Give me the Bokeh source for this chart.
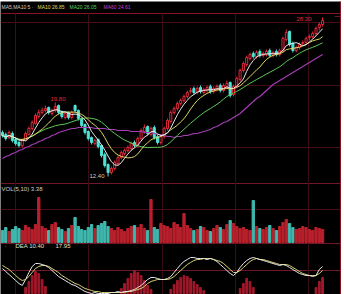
from bokeh.plotting import figure
from bokeh.models import Range1d, ColumnDataSource
from bokeh.core.properties import value
from bokeh.embed import file_html
from bokeh.resources import INLINE
import pandas as pd

# ---------------- data ----------------
open_ = [16.8, 16.6, 16.3, 16.7, 16.1, 15.8, 15.5, 16.0, 16.6, 17.2,
         17.7, 18.4, 18.8, 19.0, 19.3, 18.7, 19.0, 19.5, 18.9, 18.3,
         18.8, 18.3, 19.5, 19.0, 18.2, 17.6, 16.9, 16.3, 15.7, 16.1,
         15.5, 14.6, 13.6, 12.8, 13.2, 13.7, 14.3, 14.7, 15.0, 15.2,
         15.8, 15.5, 16.2, 16.9, 17.4, 16.6, 17.3, 16.4, 15.8, 16.4,
         17.2, 17.9, 18.8, 19.2, 19.7, 20.0, 20.4, 20.9, 21.2, 20.8,
         21.3, 20.8, 21.0, 21.4, 20.9, 21.1, 21.5, 21.0, 21.4, 21.8,
         20.6, 21.4, 22.1, 23.0, 23.6, 24.2, 24.7, 24.4, 24.9, 24.5,
         24.6, 25.0, 24.5, 24.9, 24.6, 25.0, 26.1, 26.9, 25.7, 25.0,
         25.3, 25.7, 25.8, 26.3, 26.4, 26.7, 27.3, 27.6]
close_ = [16.5, 16.2, 16.8, 16.0, 15.7, 15.5, 16.0, 16.7, 17.2, 17.8,
          18.5, 18.8, 19.0, 19.2, 18.8, 19.0, 19.4, 18.8, 18.4, 18.7,
          18.3, 18.8, 19.0, 18.2, 17.5, 16.8, 16.2, 15.8, 16.0, 15.4,
          14.5, 13.5, 12.8, 13.2, 13.8, 14.3, 14.8, 15.0, 15.3, 15.7,
          15.5, 16.2, 17.0, 17.3, 16.7, 17.2, 16.3, 15.8, 16.4, 17.2,
          18.0, 18.8, 19.2, 19.7, 20.0, 20.4, 20.8, 21.0, 20.8, 21.2,
          20.9, 21.1, 21.3, 20.9, 21.2, 21.4, 21.0, 21.5, 21.7, 20.5,
          21.4, 22.2, 23.0, 23.7, 24.3, 24.6, 24.4, 24.8, 24.5, 24.7,
          24.9, 24.5, 24.8, 24.6, 25.0, 26.2, 26.8, 25.6, 25.0, 25.3,
          25.6, 25.8, 26.2, 26.4, 26.7, 27.2, 27.6, 28.0]
high_ = [17.0, 16.8, 17.0, 16.9, 16.3, 16.0, 16.2, 16.9, 17.4, 18.0,
         18.7, 19.1, 19.3, 19.5, 19.4, 19.2, 19.8, 19.6, 19.0, 18.9,
         18.9, 19.0, 19.6, 19.1, 18.3, 17.7, 17.0, 16.4, 16.2, 16.2,
         15.6, 14.8, 13.7, 13.4, 14.0, 14.5, 15.0, 15.2, 15.5, 15.9,
         16.0, 16.4, 17.2, 17.6, 17.5, 17.4, 17.5, 16.6, 16.6, 17.4,
         18.2, 19.0, 19.4, 19.9, 20.2, 20.6, 21.0, 21.3, 21.4, 21.4,
         21.5, 21.3, 21.5, 21.6, 21.4, 21.6, 21.7, 21.7, 22.0, 21.9,
         21.6, 22.4, 23.2, 23.9, 24.5, 24.8, 24.9, 25.0, 25.1, 24.9,
         25.1, 25.2, 25.0, 25.1, 25.2, 26.4, 27.1, 27.0, 25.9, 25.5,
         25.8, 26.0, 26.4, 26.6, 26.9, 27.4, 27.8, 28.3]
low_ = [16.3, 16.0, 16.1, 15.8, 15.5, 15.3, 15.3, 15.9, 16.5, 17.0,
        17.6, 18.2, 18.6, 18.8, 18.6, 18.5, 18.8, 18.6, 18.2, 18.1,
        18.1, 18.1, 18.8, 18.0, 17.3, 16.6, 16.0, 15.6, 15.5, 15.2,
        14.3, 13.3, 12.4, 12.6, 13.0, 13.5, 14.1, 14.5, 14.8, 15.0,
        15.3, 15.3, 16.0, 16.7, 16.5, 16.4, 16.1, 15.6, 15.6, 16.2,
        17.0, 17.7, 18.6, 19.0, 19.5, 19.8, 20.2, 20.7, 20.6, 20.6,
        20.7, 20.6, 20.8, 20.7, 20.7, 20.9, 20.8, 20.8, 21.2, 20.3,
        20.4, 21.2, 21.9, 22.8, 23.4, 24.0, 24.2, 24.2, 24.3, 24.3,
        24.4, 24.3, 24.3, 24.4, 24.4, 24.8, 25.9, 25.4, 24.8, 24.8,
        25.1, 25.5, 25.6, 26.0, 26.2, 26.5, 27.0, 27.4]
ma60 = [14.2, 14.4, 14.5, 14.7, 14.8, 15.0, 15.1, 15.3, 15.4, 15.6,
        15.7, 15.9, 16.0, 16.2, 16.3, 16.5, 16.6, 16.8, 16.9, 17.0,
        17.1, 17.2, 17.2, 17.3, 17.3, 17.3, 17.3, 17.3, 17.2, 17.2,
        17.2, 17.2, 17.1, 17.1, 17.1, 17.0, 17.0, 17.0, 17.0, 16.9,
        16.9, 16.9, 16.9, 16.8, 16.8, 16.8, 16.7, 16.6, 16.6, 16.5,
        16.4, 16.4, 16.3, 16.4, 16.4, 16.5, 16.5, 16.6, 16.7, 16.7,
        16.8, 16.9, 17.0, 17.1, 17.3, 17.4, 17.6, 17.8, 17.9, 18.1,
        18.3, 18.5, 18.7, 19.0, 19.3, 19.6, 19.9, 20.2, 20.4, 20.7,
        21.0, 21.3, 21.6, 21.8, 22.0, 22.2, 22.4, 22.6, 22.8, 23.0,
        23.2, 23.4, 23.6, 23.8, 24.0, 24.2, 24.4, 24.6]
volume = [120, 150, 110, 130, 160, 140, 120, 170, 150, 130,
          180, 450, 160, 140, 120, 180, 200, 150, 130, 110,
          140, 170, 250, 160, 130, 120, 150, 180, 140, 170,
          190, 210, 160, 140, 120, 150, 130, 110, 140, 160,
          170, 150, 180, 140, 120, 430, 150, 130, 190, 170,
          160, 140, 200, 180, 150, 290, 170, 140, 120, 130,
          160, 150, 120, 110, 140, 170, 150, 130, 180, 220,
          190, 160, 140, 150, 130, 120, 420, 160, 140, 130,
          150, 170, 140, 120, 160, 200, 230, 190, 150, 130,
          140, 160, 150, 130, 120, 150, 140, 130]
dif = [0.2, -0.1, -0.4, -0.7, -1.0, -1.3, -1.5, -0.9, -0.2, 0.4,
       0.7, 0.7, 0.6, 0.5, 0.3, 0.0, -0.3, -0.6, -0.8, -1.0,
       -1.2, -1.4, -1.5, -1.7, -1.9, -2.1, -2.2, -2.3, -2.2, -2.3,
       -2.3, -2.3, -2.3, -2.2, -2.2, -2.1, -2.2, -2.1, -2.1, -2.0,
       -1.9, -1.7, -1.5, -1.2, -0.9, -0.7, -0.7, -0.8, -0.9, -0.9,
       -0.8, -0.6, -0.2, 0.2, 0.6, 0.9, 1.1, 1.3, 1.3, 1.2,
       1.2, 1.2, 1.1, 1.2, 1.1, 0.9, 0.6, 0.3, 0.0, -0.3,
       -0.5, -0.2, 0.3, 0.7, 1.0, 1.2, 1.3, 1.2, 1.1, 1.0,
       0.9, 0.8, 0.7, 0.6, 0.5, 0.6, 0.5, 0.3, 0.1, -0.1,
       -0.3, -0.4, -0.5, -0.5, -0.6, -0.5, 0.1, 0.4]
dea = [0.5, 0.3, 0.1, -0.2, -0.5, -0.8, -1.0, -0.9, -0.6, -0.2,
       0.2, 0.4, 0.5, 0.5, 0.4, 0.2, 0.0, -0.2, -0.5, -0.7,
       -0.9, -1.1, -1.3, -1.4, -1.6, -1.8, -1.9, -2.0, -2.1, -2.1,
       -2.2, -2.2, -2.2, -2.2, -2.2, -2.2, -2.2, -2.2, -2.1, -2.1,
       -2.0, -1.9, -1.8, -1.6, -1.3, -1.1, -1.0, -0.9, -0.9, -0.9,
       -0.9, -0.8, -0.6, -0.3, 0.0, 0.3, 0.6, 0.8, 1.0, 1.1,
       1.1, 1.2, 1.2, 1.2, 1.1, 1.0, 0.9, 0.7, 0.4, 0.1,
       -0.2, -0.2, 0.0, 0.3, 0.6, 0.9, 1.1, 1.2, 1.1, 1.1,
       1.0, 0.9, 0.8, 0.7, 0.6, 0.6, 0.6, 0.5, 0.3, 0.1,
       -0.1, -0.3, -0.4, -0.5, -0.5, -0.5, -0.3, 0.0]
hist = [0, 0, 0, 0, 0, 0, 0, 0.6, 1.2, 1.8,
        2.2, 2.0, 1.4, 0.7, 0, 0, 0, 0, 0, 0,
        0, 0, 0, 0, 0, 0, 0, 0, 0, 0,
        0, 0, 0, 0, 0, 0, 0.5, 1.0, 1.5, 2.0,
        2.3, 2.1, 1.8, 1.3, 0.8, 0.4, 0, 0, 0, 0,
        0, 0.4, 0.9, 1.3, 1.6, 1.8, 1.7, 1.5, 1.2, 0.9,
        0.6, 0.3, 0, 0, 0, 0, 0, 0, 0, 0,
        0, 0, 0.5, 1.0, 1.5, 1.2, 0.6, 0, 0, 0,
        0, 0, 0, 0, 0, 0, 0, 0, 0, 0,
        0, 0, 0, 0, 0, 0.6, 1.2, 1.6]

top_labels = ["MA5,MA10 5 ·", "MA10 26.85", "MA20 26.05", "MA60 24.61"]
high_label = "19.80"
low_label = "12.40"
last_label = "28.30"
vol_label = "VOL(5,10) 3.38"
macd_labels = ["DEA 10.40", "17.95"]

# ---------------- styles ----------------
RED = "#e0283a"
CYAN = "#4fe3d5"
VRED = "#b8202c"
VCYAN = "#3fb8ae"
FONT = value("Liberation Sans")

N = len(close_)
idx = list(range(N))
up = [c >= o for o, c in zip(open_, close_)]

cs = pd.Series(close_)
ma5 = cs.rolling(5, min_periods=1).mean().tolist()
ma10 = cs.rolling(10, min_periods=1).mean().tolist()
ma20 = cs.rolling(20, min_periods=1).mean().tolist()

p = figure(width=341, height=294, output_backend="svg", toolbar_location=None,
           x_axis_location=None, y_axis_location=None,
           x_range=Range1d(-0.6, 102.73), y_range=Range1d(294, 1),
           background_fill_color="black", border_fill_color="white",
           min_border_left=0, min_border_right=0, min_border_top=1,
           min_border_bottom=0)
p.outline_line_color = None
p.grid.visible = False
p.extra_x_ranges = {"px": Range1d(0, 341)}
p.extra_y_ranges = {"price": Range1d(0.6, 29.9),
                    "vol": Range1d(-520, 2410),
                    "macd": Range1d(-2.4, 26.9)}

# grid / panel lines (pixel coordinates)
for yy, col in [(13, "#8a1426"), (22, "#4a0c18"), (85, "#400c16"),
                (147, "#4a0c18"), (183, "#701828"), (209, "#4a0c18"),
                (243, "#701828"), (270, "#701828")]:
    p.segment(x0=0, x1=341, y0=yy, y1=yy, x_range_name="px",
              line_color=col, line_width=1)
for xx in [15, 88, 162, 235, 308]:
    p.segment(x0=xx, x1=xx, y0=13, y1=294, x_range_name="px",
              line_color="#3a0c16", line_width=1)
p.segment(x0=340, x1=340, y0=1, y1=294, x_range_name="px",
          line_color="#8a1426", line_width=1)

# candles
src = ColumnDataSource(dict(x=idx, o=open_, c=close_, h=high_, l=low_,
                            col=[RED if u else CYAN for u in up],
                            fill=["black" if u else CYAN for u in up]))
p.segment(x0="x", x1="x", y0="h", y1="l", color="col", source=src,
          y_range_name="price", line_width=1)
p.vbar(x="x", width=0.62, top="o", bottom="c", fill_color="fill",
       line_color="col", source=src, y_range_name="price")

# moving averages
p.line(idx, ma60, color="#a43cb4", line_width=1.2, y_range_name="price")
p.line(idx, ma20, color="#5fc85a", line_width=1, y_range_name="price")
p.line(idx, ma10, color="#dcd860", line_width=1, y_range_name="price")
p.line(idx, ma5, color="#e8e8e8", line_width=1, y_range_name="price")

# volume
p.vbar(x=idx, width=0.7, top=volume, bottom=0,
       color=[VRED if u else VCYAN for u in up], y_range_name="vol")

# macd histogram (from panel bottom) and lines
hx = [i for i in idx if hist[i] > 0]
p.vbar(x=hx, width=0.55, bottom=-2.3, top=[-2.3 + hist[i] for i in hx],
       color="#a0182a", y_range_name="macd")
p.line(idx, dea, color="#d8d070", line_width=1, y_range_name="macd")
p.line(idx, dif, color="#e8e8e8", line_width=1, y_range_name="macd")

# texts
def txt(x, y, s, color, align="left", size="6px"):
    p.text(x=[x], y=[y], text=[s], x_range_name="px", text_color=color,
           text_font=FONT, text_font_size=size, text_baseline="middle",
           text_align=align)

txt(1, 6, top_labels[0], "#d0d0d0", size="5px")
txt(37, 6, top_labels[1], "#e0d860", size="5px")
txt(69, 6, top_labels[2], "#60d060", size="5px")
txt(103, 6, top_labels[3], "#c040d0", size="5px")
txt(50, 98, high_label, RED)
txt(104, 175, low_label, "#c8c8c8", align="right")
txt(296, 18, last_label, RED)
txt(334, 15, "—", "#e05060", size="6px")
txt(1, 188, vol_label, "#d0d0d0")
txt(4, 245, "·", "#d0d0d0")
txt(15, 245, macd_labels[0], "#e0e0c0")
txt(55, 245, macd_labels[1], "#e0e0c0")

open("out.html", "w").write(file_html(p, INLINE))
